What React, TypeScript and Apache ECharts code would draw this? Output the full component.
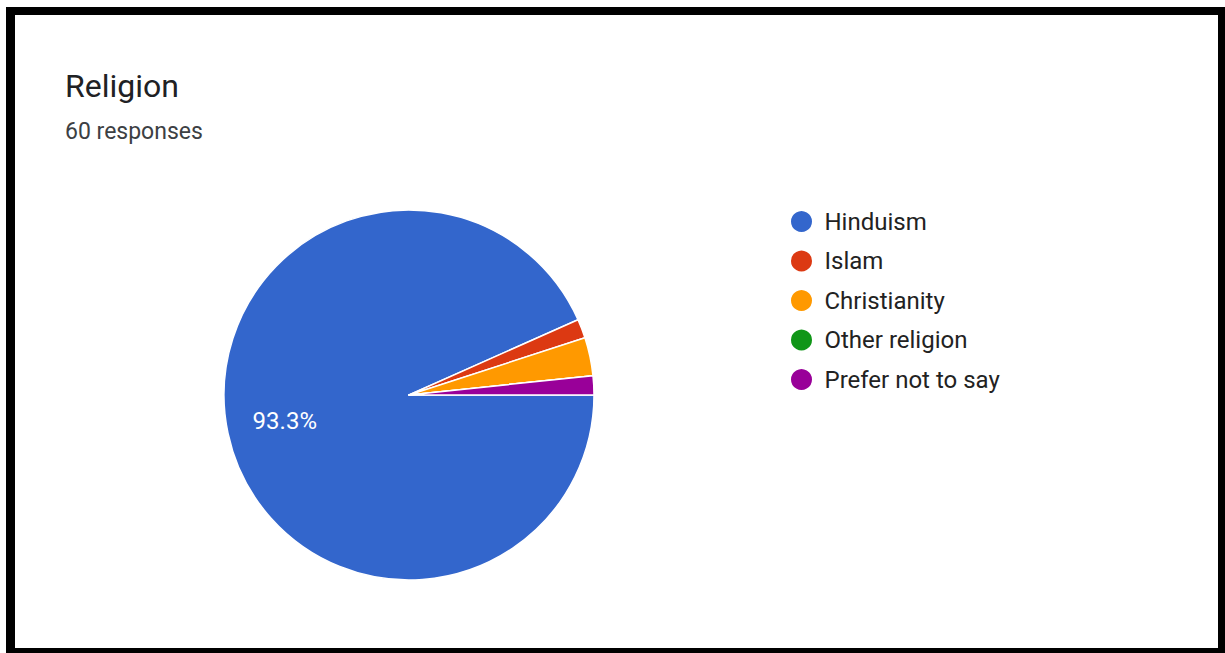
import React, { useEffect, useRef } from "react";
import * as echarts from "echarts";

const categories = ["Hinduism", "Islam", "Christianity", "Other religion", "Prefer not to say"];
const counts = [56, 1, 2, 0, 1];
const colors = ["#3366cc", "#dc3912", "#ff9900", "#109618", "#990099"];
const titleText = "Religion";
const subtitleText = "60 responses";

export default function App() {
  const ref = useRef<HTMLDivElement>(null);
  useEffect(() => {
    const chart = echarts.init(ref.current!, null, { renderer: "svg" });
    const total = counts.reduce((a, b) => a + b, 0);
    const data = categories.map((name, i) => ({ name, value: counts[i], itemStyle: { color: colors[i] } }));
    chart.setOption({
      animation: false,
      backgroundColor: "#ffffff",
      textStyle: { fontFamily: "Roboto" },
      title: {
        text: titleText,
        subtext: subtitleText,
        left: 60,
        top: 65,
        itemGap: 18,
        textStyle: { fontFamily: "Roboto", fontSize: 32, fontWeight: "normal", color: "#202124" },
        subtextStyle: { fontFamily: "Roboto", fontSize: 23, color: "#3c4043" },
      },
      legend: {
        orient: "vertical",
        left: 784,
        top: 204,
        icon: "circle",
        itemWidth: 24,
        itemHeight: 23,
        itemGap: 14.5,
        data: categories,
        textStyle: { fontFamily: "Roboto", fontSize: 24, color: "#222222", padding: [0, 0, 0, 6] },
      },
      graphic: [
        { type: "rect", shape: { x: 6, y: 7, width: 1219, height: 8 }, style: { fill: "#000" } },
        { type: "rect", shape: { x: 6, y: 7, width: 9, height: 646 }, style: { fill: "#000" } },
        { type: "rect", shape: { x: 1218, y: 7, width: 7, height: 646 }, style: { fill: "#000" } },
        { type: "rect", shape: { x: 6, y: 648, width: 1219, height: 5 }, style: { fill: "#000" } },
      ],
      series: [
        {
          type: "pie",
          center: [409, 395],
          radius: 185,
          startAngle: 0,
          clockwise: true,
          data,
          label: { show: false },
          labelLine: { show: false },
          itemStyle: { borderColor: "#ffffff", borderWidth: 1.5 },
          emphasis: { disabled: true },
          silent: true,
        },
        {
          type: "pie",
          center: [409, 395],
          radius: [63, 185],
          startAngle: 0,
          clockwise: true,
          silent: true,
          data: categories.map((name, i) => ({
            name,
            value: counts[i],
            itemStyle: { color: "rgba(0,0,0,0)" },
            label: { show: counts[i] / total > 0.05 },
          })),
          label: {
            position: "inside",
            formatter: (p: any) => ((p.value / total) * 100).toFixed(1) + "%",
            color: "#ffffff",
            fontFamily: "Roboto",
            fontSize: 24,
          },
          labelLine: { show: false },
          emphasis: { disabled: true },
        },
      ],
    });
    return () => chart.dispose();
  }, []);
  return <div ref={ref} style={{ position: "fixed", left: 0, top: 0, width: 1225, height: 653 }} />;
}
